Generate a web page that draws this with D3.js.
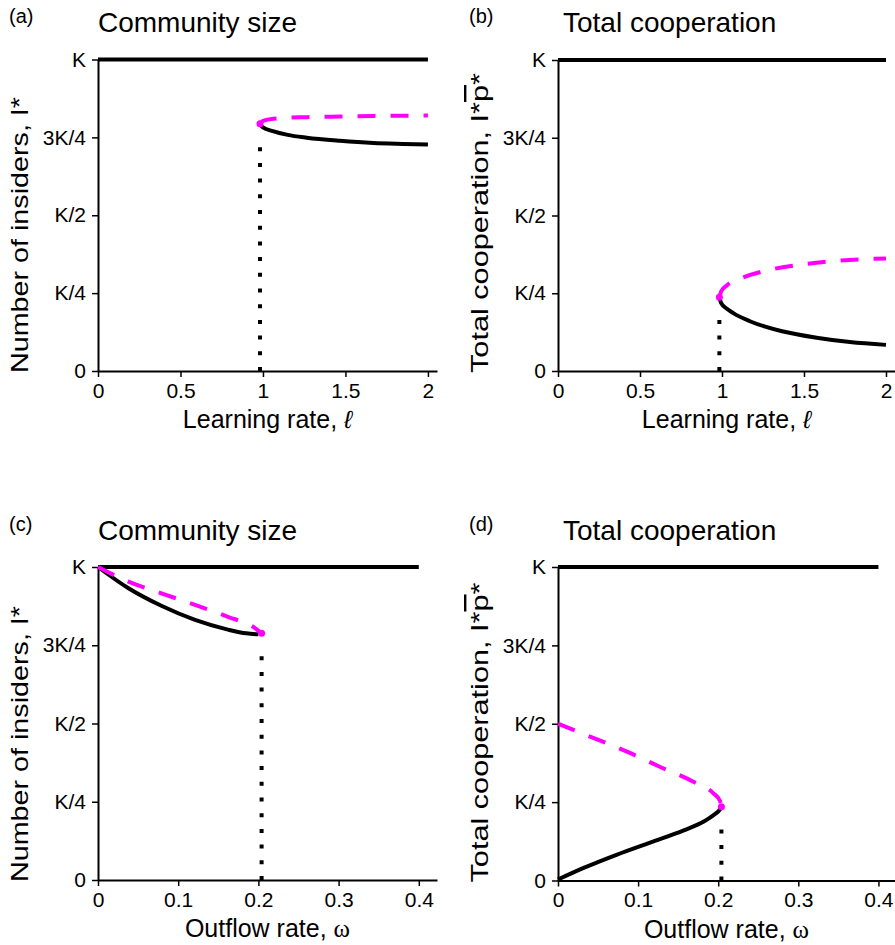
<!DOCTYPE html>
<html>
<head>
<meta charset="utf-8">
<script src="https://cdn.jsdelivr.net/npm/d3@7"></script>
<style>
body { margin: 0; background: #fff; }
text { font-family: "Liberation Sans", Arial, sans-serif; fill: #000; }
</style>
</head>
<body>
<div id="chart"></div>
<script>
const width = 895, height = 945;

// tick values and labels
const yTicks = [0, 0.25, 0.5, 0.75, 1];
const yTickLabels = ["0", "K/4", "K/2", "3K/4", "K"];
const learnTicks = [0, 0.5, 1, 1.5, 2];
const outflowTicks = [0, 0.1, 0.2, 0.3, 0.4];

// carrying capacity line (value K = 1)
const kLearnX = [0, 2];
const kOutflowX = [0, 0.4];

// (a) community size vs learning rate
const aStableX = [0.982, 0.99, 1.0, 1.06, 1.15, 1.265, 1.467, 1.67, 1.85, 2.0];
const aStableY = [0.794, 0.787, 0.782, 0.770, 0.758, 0.749, 0.739, 0.732, 0.729, 0.727];
const aUnstableX = [0.982, 1.0, 1.062, 1.265, 1.467, 1.67, 2.0];
const aUnstableY = [0.794, 0.803, 0.810, 0.815, 0.817, 0.819, 0.820];
const aFold = [0.982, 0.794];
const aDropTop = 0.74;

// (b) total cooperation vs learning rate
const bStableX = [0.984, 0.995, 1.03, 1.069, 1.17, 1.374, 1.577, 1.78, 2.0];
const bStableY = [0.237, 0.218, 0.200, 0.186, 0.160, 0.127, 0.107, 0.093, 0.084];
const bUnstableX = [0.984, 0.995, 1.029, 1.13, 1.27, 1.47, 1.67, 2.0];
const bUnstableY = [0.237, 0.256, 0.275, 0.301, 0.323, 0.341, 0.353, 0.362];
const bFold = [0.984, 0.237];
const bDropTop = 0.19;

// (c) community size vs outflow rate
const cStableX = [0, 0.038, 0.079, 0.121, 0.162, 0.185, 0.2];
const cStableY = [1, 0.932, 0.876, 0.831, 0.800, 0.788, 0.785];
const cUnstableX = [0, 0.038, 0.079, 0.121, 0.162, 0.195, 0.204];
const cUnstableY = [1, 0.953, 0.916, 0.879, 0.841, 0.806, 0.788];
const cFold = [0.204, 0.788];
const cDropTop = 0.74;

// (d) total cooperation vs outflow rate
const dStableX = [0, 0.032, 0.073, 0.115, 0.157, 0.182, 0.196, 0.202, 0.204];
const dStableY = [0.003, 0.040, 0.082, 0.121, 0.160, 0.188, 0.212, 0.226, 0.235];
const dUnstableX = [0, 0.04, 0.086, 0.127, 0.169, 0.194, 0.202, 0.204];
const dUnstableY = [0.5, 0.459, 0.411, 0.363, 0.315, 0.278, 0.255, 0.235];
const dFold = [0.204, 0.235];
const dDropTop = 0.18;

const zip = (xs, ys) => xs.map((x, i) => [x, ys[i]]);

const panels = [
  {tag: "(a)", title: "Community size", xlab: "Learning rate, ", sym: "ℓ", ylab: "a",
   left: 98, right: 437, top: 59.5, bottom: 371, xMax: 2.055, ticks: learnTicks,
   kX: kLearnX, stable: zip(aStableX, aStableY), unstable: zip(aUnstableX, aUnstableY), fold: aFold, drop: aDropTop},
  {tag: "(b)", title: "Total cooperation", xlab: "Learning rate, ", sym: "ℓ", ylab: "b",
   left: 558, right: 895, top: 60, bottom: 371, xMax: 2.055, ticks: learnTicks,
   kX: kLearnX, stable: zip(bStableX, bStableY), unstable: zip(bUnstableX, bUnstableY), fold: bFold, drop: bDropTop},
  {tag: "(c)", title: "Community size", xlab: "Outflow rate, ", sym: "ω", ylab: "a",
   left: 98, right: 437, top: 567, bottom: 880, xMax: 0.4227, ticks: outflowTicks,
   kX: kOutflowX, stable: zip(cStableX, cStableY), unstable: zip(cUnstableX, cUnstableY), fold: cFold, drop: cDropTop},
  {tag: "(d)", title: "Total cooperation", xlab: "Outflow rate, ", sym: "ω", ylab: "b",
   left: 558, right: 895, top: 567, bottom: 880.5, xMax: 0.4207, ticks: outflowTicks,
   kX: kOutflowX, stable: zip(dStableX, dStableY), unstable: zip(dUnstableX, dUnstableY), fold: dFold, drop: dDropTop}
];

const svg = d3.select("#chart")
  .append("svg")
  .attr("width", width)
  .attr("height", height);

panels.forEach(p => {
  const g = svg.append("g");
  const x = d3.scaleLinear([0, p.xMax], [p.left, p.right]);
  const y = d3.scaleLinear([0, 1], [p.bottom, p.top]);
  const row0 = p.top < 300 ? 0 : 508;

  // axes
  g.append("g")
    .attr("transform", `translate(0,${p.bottom})`)
    .call(d3.axisBottom(x).tickValues(p.ticks).tickFormat(d3.format("~g")).tickSize(6).tickSizeOuter(0).tickPadding(6))
    .call(a => a.select(".domain").attr("stroke-width", 2))
    .call(a => a.selectAll(".tick line").attr("stroke-width", 1.5))
    .call(a => a.selectAll("text").attr("font-size", 21).attr("font-family", null).attr("fill", "#000"));

  g.append("g")
    .attr("transform", `translate(${p.left},0)`)
    .call(d3.axisLeft(y).tickValues(yTicks).tickFormat((d, i) => yTickLabels[i]).tickSize(6).tickSizeOuter(0).tickPadding(6))
    .call(a => a.select(".domain").attr("stroke-width", 2))
    .call(a => a.selectAll(".tick line").attr("stroke-width", 1.5))
    .call(a => a.selectAll("text").attr("font-size", 21).attr("font-family", null).attr("fill", "#000"));

  const line = d3.line().x(d => x(d[0])).y(d => y(d[1])).curve(d3.curveMonotoneX);

  // K line
  g.append("path")
    .attr("d", line(p.kX.map(v => [v, 1])))
    .attr("fill", "none").attr("stroke", "#000").attr("stroke-width", 4);

  // dotted drop line at the fold
  g.append("line")
    .attr("x1", x(p.fold[0])).attr("x2", x(p.fold[0]))
    .attr("y1", y(0)).attr("y2", y(p.drop))
    .attr("stroke", "#000").attr("stroke-width", 4)
    .attr("stroke-dasharray", "4,11.7");

  // stable branch
  g.append("path")
    .attr("d", line(p.stable))
    .attr("fill", "none").attr("stroke", "#000").attr("stroke-width", 4);

  // unstable branch
  g.append("path")
    .attr("d", line(p.unstable))
    .attr("fill", "none").attr("stroke", "#ff00ff").attr("stroke-width", 4)
    .attr("stroke-dasharray", "18,15");

  g.append("circle")
    .attr("cx", x(p.fold[0])).attr("cy", y(p.fold[1]))
    .attr("r", 3.5).attr("fill", "#ff00ff");

  // panel tag and title
  g.append("text")
    .attr("x", p.left - 89).attr("y", row0 + 23)
    .attr("font-size", 20)
    .text(p.tag);

  g.append("text")
    .attr("x", p.left + (p.left > 400 ? 5 : 0)).attr("y", row0 + 32)
    .attr("font-size", 28)
    .text(p.title);

  // x label
  const xl = g.append("text")
    .attr("x", (p.left + p.right) / 2).attr("y", p.bottom + 57)
    .attr("text-anchor", "middle")
    .attr("font-size", 25)
    .text(p.xlab);
  xl.append("tspan")
    .attr("font-family", p.sym === "ω" ? "'Liberation Serif', serif" : null)
    .attr("font-style", p.sym === "ℓ" ? "italic" : null)
    .text(p.sym);

  // y label
  const yl = g.append("text")
    .attr("transform", `translate(${p.left - 70},${p.bottom + 2}) rotate(-90)`)
    .attr("font-size", 24);
  if (p.ylab === "a") {
    yl.attr("textLength", 276).attr("lengthAdjust", "spacingAndGlyphs")
      .text("Number of insiders, I*");
  } else {
    yl.attr("textLength", 300).attr("lengthAdjust", "spacingAndGlyphs");
    yl.append("tspan").text("Total cooperation, I*");
    yl.append("tspan").attr("text-decoration", "overline").text("p");
    yl.append("tspan").text("*");
  }
});
</script>
</body>
</html>
